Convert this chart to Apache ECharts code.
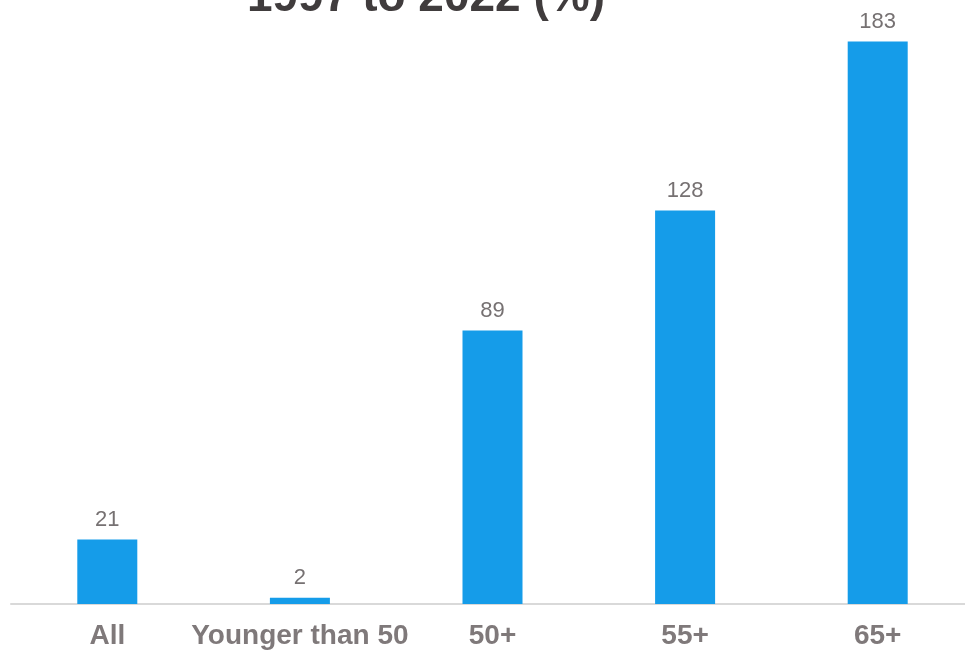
<!DOCTYPE html>
<html>
<head>
<meta charset="utf-8">
<style>
  html, body { margin: 0; padding: 0; background: #ffffff; }
  #chart { width: 965px; height: 651px; }
</style>
<script src="https://cdn.jsdelivr.net/npm/echarts@6/dist/echarts.min.js"></script>
</head>
<body>
<div id="chart"></div>
<script>
// Age groups on the category axis
const categories = ['All', 'Younger than 50', '50+', '55+', '65+'];
// Percentage change, 1997 to 2022
const changePct = [21, 2, 89, 128, 183];
const titleText = '1997 to 2022 (%)';

const chart = echarts.init(document.getElementById('chart'), null, { renderer: 'canvas' });

chart.setOption({
  animation: false,
  backgroundColor: '#ffffff',
  title: {
    text: titleText,
    left: 421,
    top: -30,
    textAlign: 'center',
    textStyle: {
      fontFamily: 'Liberation Sans, Arial, sans-serif',
      fontWeight: 'bold',
      fontSize: 46,
      lineHeight: 46,
      color: '#403c3d'
    }
  },
  // the plot area runs slightly past the right edge of the canvas
  grid: { left: 11, top: 20, width: 963, bottom: 47, containLabel: false, outerBoundsMode: 'none' },
  xAxis: {
    type: 'category',
    data: categories,
    axisLine: { show: true, lineStyle: { color: '#d9d9d9', width: 2 } },
    axisTick: { show: false },
    axisLabel: {
      margin: 18,
      interval: 0,
      fontFamily: 'Liberation Sans, Arial, sans-serif',
      fontWeight: 'bold',
      fontSize: 28,
      lineHeight: 28,
      color: '#7f797a'
    }
  },
  yAxis: {
    type: 'value',
    min: 0,
    max: 190,
    show: false,
    splitLine: { show: false }
  },
  series: [{
    type: 'bar',
    data: changePct,
    barWidth: 60,
    itemStyle: { color: '#159ce9' },
    label: {
      show: true,
      position: 'top',
      distance: 9,
      fontFamily: 'Liberation Sans, Arial, sans-serif',
      fontSize: 22,
      color: '#767172'
    }
  }]
});
</script>
</body>
</html>
